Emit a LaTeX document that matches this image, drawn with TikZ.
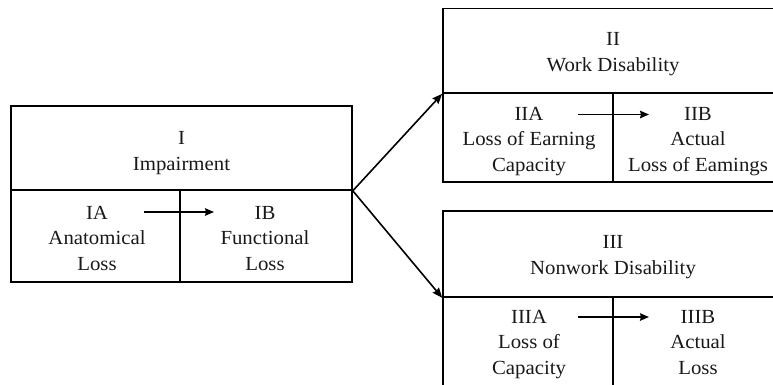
\documentclass[tikz,border=0pt]{standalone}
\usepackage{fontspec}
\setmainfont[FakeStretch=1.04]{Liberation Serif}
\usetikzlibrary{arrows.meta}
\begin{document}
\begin{tikzpicture}[x=1pt,y=-1pt,
  cell/.style={draw, line width=1.6pt, rectangle, inner sep=0pt},
  txt/.style={anchor=base, align=center, inner sep=0pt,
    font=\fontsize{20pt}{25.5pt}\selectfont, text=black!90},
  flow/.style={line width=1.6pt, -{Stealth[length=10pt,width=8pt,inset=1pt]}},
  small/.style={line width=1.5pt, -{Stealth[length=9pt,width=7.5pt,inset=1pt]}}]
\useasboundingbox (0,0) rectangle (773,384);
\clip (0,0) rectangle (773,384);
% Box I
\node[cell, minimum width=341pt, minimum height=84pt] (Itop) at (181.5,148) {};
\node[cell, minimum width=169pt, minimum height=92pt] (IA) at (95.5,236) {};
\node[cell, minimum width=172pt, minimum height=92pt] (IB) at (266,236) {};
\node[txt] (Itxt) at (181.5,170) {I\\Impairment};
\node[txt] (IAtxt) at (97,270) {IA\\Anatomical\\Loss};
\node[txt] (IBtxt) at (265,270) {IB\\Functional\\Loss};
% Box II
\node[cell, minimum width=337pt, minimum height=84.5pt] (IItop) at (611.5,50.75) {};
\node[cell, minimum width=170pt, minimum height=89pt] (IIA) at (528,137.5) {};
\node[cell, minimum width=167pt, minimum height=89pt] (IIB) at (696.5,137.5) {};
\node[txt] (IItxt) at (613,71) {II\\Work Disability};
\node[txt] (IIAtxt) at (529,171) {IIA\\Loss of Earning\\Capacity};
\node[txt] (IIBtxt) at (698,171) {IIB\\Actual\\Loss of Eamings};
% Box III
\node[cell, minimum width=337pt, minimum height=86pt] (IIItop) at (611.5,254) {};
\node[cell, minimum width=170pt, minimum height=91pt] (IIIA) at (528,342.5) {};
\node[cell, minimum width=167pt, minimum height=91pt] (IIIB) at (696.5,342.5) {};
\node[txt] (IIItxt) at (613,274) {III\\Nonwork Disability};
\node[txt] (IIIAtxt) at (529,374) {IIIA\\Loss of\\Capacity};
\node[txt] (IIIBtxt) at (698,374) {IIIB\\Actual\\Loss};
% inner arrow ends
\coordinate (a1) at (144,212);
\coordinate (b1) at (214,212);
\coordinate (a2) at (578,114.5);
\coordinate (b2) at (649,114.5);
\coordinate (a3) at (578,317);
\coordinate (b3) at (649,317);
\draw[small] (a1) -- (b1);
\draw[small] (a2) -- (b2);
\draw[small] (a3) -- (b3);
% main arrows
\draw[flow] (Itop.south east) -- (IItop.south west);
\draw[flow] (Itop.south east) -- (IIItop.south west);
\end{tikzpicture}
\end{document}
